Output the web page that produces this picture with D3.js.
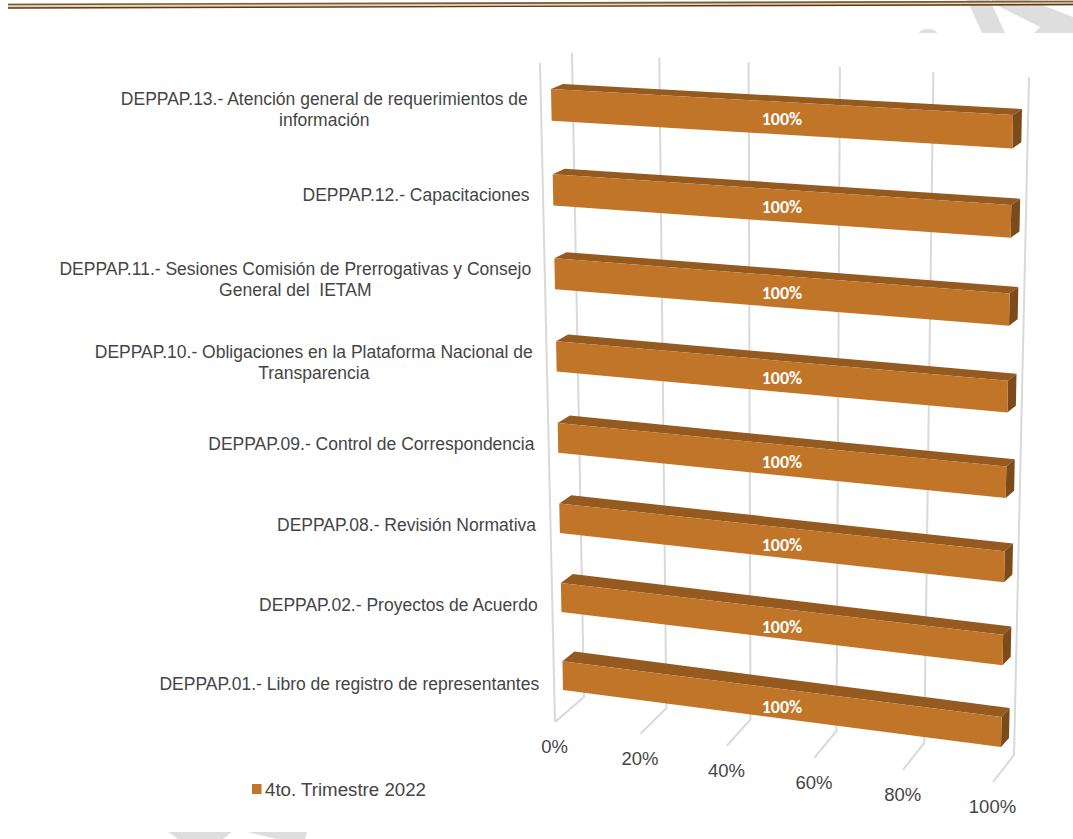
<!DOCTYPE html>
<html lang="en">
<head>
<meta charset="UTF-8">
<title>4to. Trimestre 2022</title>
<script src="https://d3js.org/d3.v7.min.js"></script>
<style>
    body { margin: 0; background: #fff; }
    svg { display: block; }
    text { font-family: "Liberation Sans", Arial, sans-serif; white-space: pre; }
</style>
</head>
<body>
<div id="svg_area"></div>
<script>
// chart values, top bar first
const categories = [
    ["DEPPAP.13.- Atención general de requerimientos de", "información"],
    ["DEPPAP.12.- Capacitaciones"],
    ["DEPPAP.11.- Sesiones Comisión de Prerrogativas y Consejo", "General del  IETAM"],
    ["DEPPAP.10.- Obligaciones en la Plataforma Nacional de", "Transparencia"],
    ["DEPPAP.09.- Control de Correspondencia"],
    ["DEPPAP.08.- Revisión Normativa"],
    ["DEPPAP.02.- Proyectos de Acuerdo"],
    ["DEPPAP.01.- Libro de registro de representantes"]
];
const values = [100, 100, 100, 100, 100, 100, 100, 100];
const ticks = [0, 20, 40, 60, 80, 100];
const seriesName = "4to. Trimestre 2022";

const orange = "#c17529", orangeTop = "#945a20", orangeSide = "#7c4b1b";
const gridColor = "#d9d9d9", textColor = "#454545";

// unit square -> quad (tl, tr, br, bl), the chart is a picture of a tilted 3D box
function quad(p) {
    const [[x0,y0],[x1,y1],[x2,y2],[x3,y3]] = p;
    const dx1 = x1-x2, dx2 = x3-x2, sx = x0-x1+x2-x3;
    const dy1 = y1-y2, dy2 = y3-y2, sy = y0-y1+y2-y3;
    const den = dx1*dy2-dx2*dy1;
    const g = (sx*dy2-dx2*sy)/den, h = (dx1*sy-sx*dy1)/den;
    const a = x1-x0+g*x1, b = x3-x0+h*x3, d = y1-y0+g*y1, e = y3-y0+h*y3;
    return (u, v) => {
        const w = g*u+h*v+1;
        return [(a*u+b*v+x0)/w, (d*u+e*v+y0)/w];
    };
}

const wall = quad([[572,53],[1029,77],[1014,755],[584,697]]);
const floor = quad([[584,697],[1014,755],[993,782],[555,722]]);
const barFront = quad([[551,89],[1013,115],[1001,747],[563,690]]);
const barBack = quad([[563,84],[1022,109],[1009,738],[575,680]]);

const x = d3.scaleLinear().domain([0,100]).range([0,1]);
const y = d3.scaleBand().domain(d3.range(categories.length)).range([0,1]).paddingInner(0.63);

const svg = d3.select("#svg_area").append("svg").attr("width",1073).attr("height",839);
const line = d3.line();

// grey watermark pieces showing around the page edges
const wm = svg.append("g").attr("fill","#dedede");
wm.append("path").attr("d","M967,0L990,0L1005,33L982,33Z");
wm.append("path").attr("d","M992,3L1040,27L1034,33L1073,33L1073,17L1030,0L992,0Z");
wm.append("path").attr("d","M919,33A9,4 0 0 1 937,33Z");
wm.append("path").attr("d","M168,832L232,832L223,839L178,839Z");
wm.append("path").attr("d","M247,832L307,832L305,839L277,839Z");

// header rule
const rule = svg.append("g").attr("fill","none");
rule.append("path").attr("d","M8,6L1073,3").attr("stroke","#e3d3bf").attr("stroke-width",5);
rule.append("path").attr("d","M8,4.5L1073,1.5").attr("stroke","#7a5a34").attr("stroke-width",1.6);
rule.append("path").attr("d","M8,8L1073,4.5").attr("stroke","#5e3a10").attr("stroke-width",1.4);

// gridlines on back wall + floor
const grid = svg.append("g").attr("fill","none").attr("stroke",gridColor).attr("stroke-width",2);
grid.selectAll("path.wall").data(ticks).enter().append("path")
    .attr("class","wall")
    .attr("d", t => line([wall(x(t),0), wall(x(t),1), floor(x(t),1)]));
// left side wall
grid.append("path").attr("d", line([[540,63], floor(x(0),1)]));

// bars
const bars = svg.append("g").selectAll("g").data(values).enter().append("g");
bars.append("path").attr("fill",orangeTop)
    .attr("d",(d,i) => line([barFront(x(0),y(i)), barFront(x(d),y(i)), barBack(x(d),y(i)), barBack(x(0),y(i))])+"Z");
bars.append("path").attr("fill",orangeSide)
    .attr("d",(d,i) => {
        const b = y(i)+y.bandwidth();
        return line([barFront(x(d),y(i)), barBack(x(d),y(i)), barBack(x(d),b), barFront(x(d),b)])+"Z";
    });
bars.append("path").attr("fill",orange)
    .attr("d",(d,i) => {
        const b = y(i)+y.bandwidth();
        return line([barFront(x(0),y(i)), barFront(x(d),y(i)), barFront(x(d),b), barFront(x(0),b)])+"Z";
    });

// label sits at the mean of the front face corners
function faceCentre(d,i) {
    const b = y(i)+y.bandwidth();
    return [
        (barFront(x(0),y(i))[0]+barFront(x(d),y(i))[0]+barFront(x(d),b)[0]+barFront(x(0),b)[0])/4,
        (barFront(x(0),y(i))[1]+barFront(x(d),y(i))[1]+barFront(x(d),b)[1]+barFront(x(0),b)[1])/4
    ];
}
bars.append("text")
    .attr("x",(d,i) => faceCentre(d,i)[0])
    .attr("y",(d,i) => faceCentre(d,i)[1]+0.5+2.5*y(i))
    .attr("dy","0.35em")
    .attr("text-anchor","middle")
    .attr("fill","#fff")
    .style("font-family","Carlito, 'Open Sans', sans-serif")
    .style("font-size","18px").style("font-weight","bold")
    .text(d => d+"%");

// value axis labels, under the front end of the floor lines
svg.append("g").selectAll("text").data(ticks).enter().append("text")
    .attr("x", t => floor(x(t),1)[0]-0.5)
    .attr("y", t => floor(x(t),1)[1]+24.5)
    .attr("dy","0.35em")
    .attr("text-anchor","middle")
    .attr("fill",textColor)
    .style("font-size","18.5px")
    .text(t => t+"%");

// category labels, centred lines, block right edge next to the bar
categories.forEach((lines,i) => {
    const v = y(i)+y.bandwidth()/2;
    const p = barFront(0,v);
    const t = svg.append("text").attr("fill",textColor).style("font-size","17.5px").attr("text-anchor","middle");
    const spans = lines.map((l,k) => t.append("tspan").text(l));
    const w = d3.max(spans, s => s.node().getComputedTextLength());
    const top = p[1]+4+4*v-(lines.length-1)*10;
    spans.forEach((s,k) => s.attr("x",p[0]-23.5-w/2).attr("y",top+k*20.5).attr("dy","0.35em"));
});

// legend
svg.append("rect").attr("x",252).attr("y",784).attr("width",9.5).attr("height",10).attr("fill",orange);
svg.append("text").attr("x",265).attr("y",789).attr("dy","0.35em")
    .attr("fill",textColor).style("font-size","18.7px").text(seriesName);
</script>
</body>
</html>
